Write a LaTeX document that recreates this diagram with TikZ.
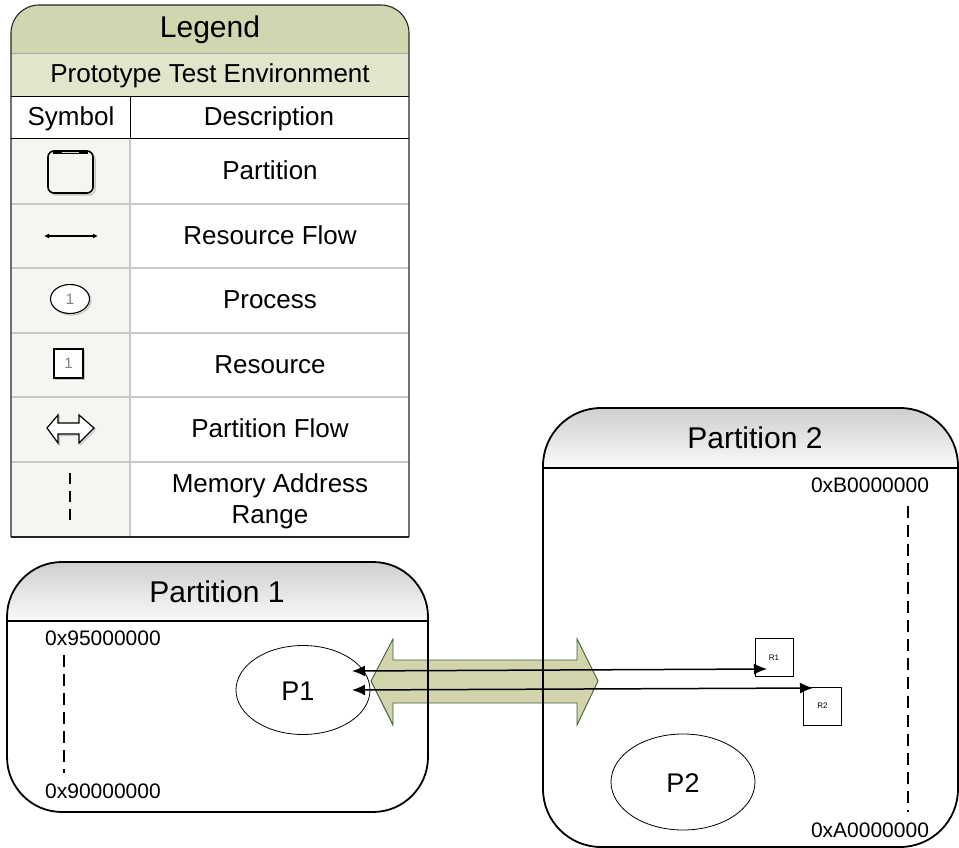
\documentclass[tikz,border=0pt]{standalone}
\usepackage{fontspec}
\setmainfont{Liberation Sans}
\usetikzlibrary{shapes.geometric,arrows.meta}
\definecolor{hdr}{RGB}{208,214,176}
\definecolor{subhdr}{RGB}{224,229,204}
\definecolor{symbg}{RGB}{245,245,241}
\definecolor{flowfill}{RGB}{211,212,172}
\definecolor{flowline}{RGB}{60,95,58}
\definecolor{rowline}{RGB}{200,200,200}
\tikzset{
  lbl/.style={anchor=base, inner sep=0pt, font=\fontsize{26}{30}\selectfont},
  ttl/.style={anchor=base, inner sep=0pt, font=\fontsize{30}{34}\selectfont},
  hex/.style={anchor=base, inner sep=0pt, font=\fontsize{21}{24}\selectfont},
  proc/.style={draw, ellipse, inner sep=0pt, line width=0.8pt},
  res/.style={draw, rectangle, inner sep=0pt, line width=0.8pt, minimum width=38pt, minimum height=38pt, font=\fontsize{8}{9}\selectfont},
  partbox/.style={draw, line width=1.8pt},
  memline/.style={line width=1.4pt, dash pattern=on 12pt off 7pt},
  rflow/.style={line width=1.5pt, {Latex[length=13pt,width=11pt]}-{Latex[length=13pt,width=11pt]}},
  icontxt/.style={inner sep=0pt, text=gray, font=\fontsize{15}{16}\selectfont\rmfamily}
}
\begin{document}
\begin{tikzpicture}[x=1pt,y=-1pt]
\useasboundingbox (0,0) rectangle (959,848);

% ---------------- Legend ----------------
\begin{scope}
  \clip[rounded corners=28pt] (11,5) rectangle (409,150);
  \fill[hdr] (11,5) rectangle (409,54);
\end{scope}
\fill[subhdr] (11,54) rectangle (409,97);
\fill[symbg] (11,139) rectangle (130,537);
\foreach \yy in {204,268,333,397,462}
  \draw[rowline, line width=1.2pt] (11,\yy) -- (409,\yy);
\draw[rowline, line width=1.2pt] (130,139) -- (130,537);
\draw[gray!70, line width=1pt] (11,54) -- (409,54);
\draw[line width=1pt] (11,97) -- (409,97);
\draw[line width=1pt] (130,97) -- (130,139);
\draw[line width=1pt] (11,139) -- (409,139);
\draw[rounded corners=28pt, line width=1.1pt, black!85] (11,537) -- (11,5) -- (409,5) -- (409,537);
\draw[line width=1.1pt, black!85] (11,537) -- (409,537);

\node[ttl] (legend) at (210,38) {Legend};
\node[lbl] (pte) at (210,83) {Prototype Test Environment};
\node[lbl] (sym) at (71,126) {Symbol};
\node[lbl] (desc) at (269,126) {Description};
\node[lbl] (dpart) at (270,180) {Partition};
\node[lbl] (drf) at (270,244) {Resource Flow};
\node[lbl] (dproc) at (270,308) {Process};
\node[lbl] (dres) at (270,373) {Resource};
\node[lbl] (dpf) at (270,437) {Partition Flow};
\node[lbl] (dmem1) at (270,492) {Memory Address};
\node[lbl] (dmem2) at (270,523) {Range};

% icons
\draw[gray!45, line width=1.5pt, rounded corners=6pt] (50,153) rectangle (95,195);
\draw[line width=1.6pt, rounded corners=6pt, fill=symbg] (48,151) rectangle (93,193);
\draw[line width=3pt] (53,152.5) -- (88,152.5);
\draw[gray!30, line width=1pt] (62,152.5) -- (79,152.5);

\coordinate (rfa) at (44,236);
\coordinate (rfb) at (98,236);
\draw[line width=1.3pt, {Latex[length=5pt,width=5pt]}-{Latex[length=5pt,width=5pt]}] (rfa) -- (rfb);

\node[draw=gray!45, ellipse, line width=1.2pt, minimum width=39pt, minimum height=29pt, inner sep=0pt] (iprocs) at (71.5,300.5) {};
\node[draw, ellipse, line width=1.1pt, minimum width=39pt, minimum height=29pt, inner sep=0pt, fill=white] (iproc) at (70,299) {};
\node[icontxt] (iproct) at (iproc) {1};

\node[draw=gray!45, rectangle, line width=1.2pt, minimum width=29pt, minimum height=29pt, inner sep=0pt] (iress) at (70,365) {};
\node[draw, rectangle, line width=1.1pt, minimum width=29pt, minimum height=29pt, inner sep=0pt, fill=white] (ires) at (68.5,363.5) {};
\node[icontxt] (irest) at (ires) {1};

\draw[gray!45, line width=1.2pt, shift={(1.5,1.5)}]
  (47,428) -- (58,415) -- (58,423) -- (79,423) -- (79,415) -- (94,428)
  -- (79,443) -- (79,434) -- (58,434) -- (58,443) -- cycle;
\draw[line width=1.2pt, fill=white]
  (47,428) -- (58,415) -- (58,423) -- (79,423) -- (79,415) -- (94,428)
  -- (79,443) -- (79,434) -- (58,434) -- (58,443) -- cycle;

\coordinate (ima) at (70,473);
\coordinate (imb) at (70,527);
\draw[line width=1.2pt, dash pattern=on 11pt off 7pt] (ima) -- (imb);

% ---------------- Partition headers ----------------
\begin{scope}
  \clip[rounded corners=55pt] (7,562) rectangle (428,812);
  \shade[top color=gray!38, bottom color=gray!4] (7,562) rectangle (428,621);
\end{scope}
\begin{scope}
  \clip[rounded corners=58pt] (543,408) rectangle (958,847);
  \shade[top color=gray!38, bottom color=gray!4] (543,408) rectangle (958,468);
\end{scope}

% ---------------- Partition flow (big arrow) ----------------
\draw[fill=flowfill, draw=flowline, line width=0.9pt]
  (371,681) -- (393,639) -- (393,660) -- (577,660) -- (577,639) -- (598,681)
  -- (577,725) -- (577,703) -- (393,703) -- (393,725) -- cycle;

% ---------------- Partition frames ----------------
\draw[partbox, rounded corners=55pt] (7,562) rectangle (428,812);
\draw[line width=1.6pt] (7,621) -- (428,621);
\draw[partbox, rounded corners=58pt] (543,408) rectangle (958,847);
\draw[line width=1.6pt] (543,468) -- (958,468);

\node[ttl] (p1title) at (217,602) {Partition 1};
\node[ttl] (p2title) at (755,448) {Partition 2};

% memory ranges
\node[hex] (h95) at (103,645) {0x95000000};
\node[hex] (h90) at (103,798) {0x90000000};
\coordinate (m1a) at (64,655);
\coordinate (m1b) at (64,773);
\draw[memline] (m1a) -- (m1b);

\node[hex] (hB) at (870,492) {0xB0000000};
\node[hex] (hA) at (870,837) {0xA0000000};
\coordinate (m2a) at (908,506);
\coordinate (m2b) at (908,812);
\draw[memline] (m2a) -- (m2b);

% processes
\node[proc, minimum width=134pt, minimum height=89pt] (p1) at (303,690) {};
\node[anchor=base, inner sep=0pt, font=\fontsize{27}{30}\selectfont] (p1t) at (298,700) {P1};
\node[proc, minimum width=144pt, minimum height=96pt] (p2) at (683,782) {};
\node[anchor=base, inner sep=0pt, font=\fontsize{27}{30}\selectfont] (p2t) at (683,792) {P2};

% resources
\node[res] (r1) at (774,657.5) {R1};
\node[res] (r2) at (822.5,706) {R2};

% resource flows
\coordinate (f1a) at (352,671);
\coordinate (f1b) at (767,669);
\coordinate (f2a) at (352,690);
\coordinate (f2b) at (813,688);
\draw[rflow] (f1a) -- (f1b);
\draw[rflow] (f2a) -- (f2b);
\end{tikzpicture}
\end{document}
